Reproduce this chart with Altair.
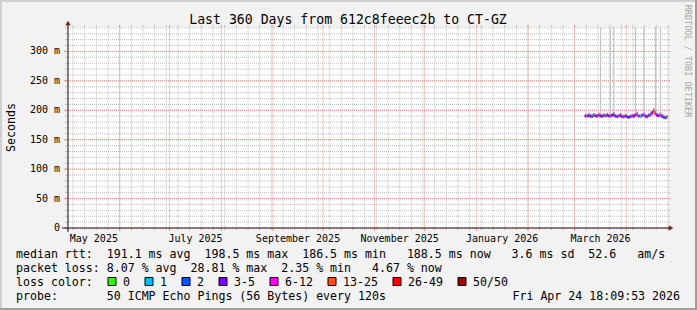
import altair as alt
import pandas as pd

# ---------------- data ----------------
title_text = "Last 360 Days from 612c8feeec2b to CT-GZ"
axis_start = "2025-05-01"
axis_days = 360
y_max = 341.5
y_ticks = [0, 50, 100, 150, 200, 250, 300]
y_tick_labels = ["0", "50 m", "100 m", "150 m", "200 m", "250 m", "300 m"]
month_labels = ["May 2025", "July 2025", "September 2025", "November 2025",
                "January 2026", "March 2026"]
label_month_starts = ["2025-05-01", "2025-07-01", "2025-09-01", "2025-11-01",
                      "2026-01-01", "2026-03-01"]

data_first_day = "2026-03-07"
median_rtt = [190.4, 189.6, 191.3, 190.0, 189.2, 191.6, 190.5, 189.8, 192.1, 190.7,
              189.4, 191.2, 190.1, 191.8, 190.6, 189.5, 191.1, 192.8, 190.3, 188.8,
              190.2, 191.7, 189.3, 188.4, 190.6, 189.1, 187.6, 188.8, 190.4, 189.2,
              191.5, 193.2, 190.1, 189.4, 190.9, 192.4, 190.3, 188.6, 190.8, 192.0,
              194.3, 198.5, 195.0, 191.6, 190.2, 192.5, 190.0, 188.9, 186.5, 188.5]
smoke_low = [188.0, 187.2, 188.6, 187.5, 186.9, 189.0, 188.1, 187.3, 189.4, 188.2,
             187.0, 188.7, 187.6, 189.1, 188.0, 187.1, 188.5, 190.0, 187.8, 186.4,
             187.7, 189.0, 186.9, 186.0, 188.1, 186.7, 185.3, 186.4, 187.9, 186.8,
             188.9, 190.4, 187.6, 187.0, 188.3, 189.8, 187.8, 186.2, 188.2, 189.4,
             191.5, 195.2, 192.1, 189.0, 187.8, 189.8, 187.5, 186.5, 184.3, 186.1]
smoke_high = [194.1, 193.0, 195.2, 193.6, 192.7, 195.4, 194.0, 193.3, 196.0, 194.3,
              192.9, 194.8, 193.7, 195.6, 194.2, 193.0, 194.7, 196.9, 193.9, 192.2,
              193.8, 195.5, 192.8, 191.9, 194.2, 192.6, 191.0, 192.3, 194.0, 192.7,
              195.3, 197.4, 193.7, 192.9, 194.6, 196.3, 193.9, 192.1, 194.5, 195.9,
              198.6, 203.0, 199.2, 195.4, 193.8, 196.4, 193.6, 192.4, 189.9, 191.8]
loss_class = ["3-5", "6-12", "3-5", "3-5", "2", "6-12", "3-5", "3-5", "6-12", "3-5",
              "3-5", "2", "6-12", "3-5", "3-5", "6-12", "3-5", "3-5", "2", "3-5",
              "6-12", "3-5", "3-5", "6-12", "3-5", "2", "3-5", "3-5", "6-12", "3-5",
              "3-5", "6-12", "3-5", "1", "3-5", "6-12", "3-5", "3-5", "2", "6-12",
              "3-5", "13-25", "6-12", "3-5", "3-5", "6-12", "3-5", "2", "3-5", "3-5"]
spike_dates = ["2026-03-16", "2026-03-22", "2026-03-24", "2026-04-06",
               "2026-04-11", "2026-04-18", "2026-04-21"]
spike_top = 1000.0

loss_labels = ["0", "1", "2", "3-5", "6-12", "13-25", "26-49", "50/50"]
loss_colors = ["#26ff00", "#00b8ff", "#0059ff", "#7e00ff", "#ff00ff",
               "#ff5500", "#ff0000", "#a10000"]

rtt_avg, rtt_max, rtt_min, rtt_now, rtt_sd, am_s = 191.1, 198.5, 186.5, 188.5, 3.6, 52.6
loss_avg, loss_max, loss_min, loss_now = 8.07, 28.81, 2.35, 4.67
probe_text = "50 ICMP Echo Pings (56 Bytes) every 120s"
stamp_text = "Fri Apr 24 18:09:53 2026"
watermark = "RRDTOOL / TOBI OETIKER"

# ---------------- layout ----------------
W, H = 600, 201
MONO = "DejaVu Sans Mono"
NB = "\u00a0"
start = pd.Timestamp(axis_start)


def day(ts):
    return (pd.Timestamp(ts) - start) / pd.Timedelta(days=1)


xs = alt.Scale(domain=[0, axis_days], nice=False, zero=False)
ys = alt.Scale(domain=[0, y_max], nice=False, zero=False, clamp=True)
one = pd.DataFrame({"k": [0]})

end = start + pd.Timedelta(days=axis_days)
week_df = pd.DataFrame({"d": [day(t) for t in pd.date_range(start, end, freq="W-SUN")]})
month_df = pd.DataFrame({"d": [day(t) for t in pd.date_range(start, end, freq="MS")]})
ymin_df = pd.DataFrame({"v": list(range(0, int(y_max) + 1, 10))})
ymaj_df = pd.DataFrame({"v": y_ticks,
                        "lab": [s.replace(" ", NB) + (NB * 2 if s == "0" else "")
                                for s in y_tick_labels]})

MINOR = "#bdbdbd"
MAJOR = "#e58f8f"

layers = []

# frame shading
frame = pd.DataFrame({
    "x": [-68, -68, -68, 627], "x2": [629, -66, 629, 629],
    "y": [-27, -27, 281, -27], "y2": [-25, 283, 283, 283],
    "c": ["#CFCFCF", "#CFCFCF", "#9E9E9E", "#9E9E9E"]})
layers.append(alt.Chart(frame).mark_rect().encode(
    x=alt.X("x:Q", scale=None), x2="x2", y=alt.Y("y:Q", scale=None), y2="y2",
    color=alt.Color("c:N", scale=None)))

# minor grid
layers.append(alt.Chart(week_df).mark_rule(color=MINOR, strokeDash=[1, 1], strokeWidth=1).encode(
    x=alt.X("d:Q", scale=xs, axis=None), y=alt.value(0.5), y2=alt.value(H)))
for a, b in [(-2, 0), (H, H + 2)]:
    layers.append(alt.Chart(week_df).mark_rule(color=MINOR).encode(
        x=alt.X("d:Q", scale=xs, axis=None), y=alt.value(a), y2=alt.value(b)))
layers.append(alt.Chart(ymin_df).mark_rule(color=MINOR, strokeDash=[1, 1]).encode(
    y=alt.Y("v:Q", scale=ys, axis=None), x=alt.value(0), x2=alt.value(W)))
for a, b in [(-3, 0), (W, W + 2)]:
    layers.append(alt.Chart(ymin_df).mark_rule(color=MINOR).encode(
        y=alt.Y("v:Q", scale=ys, axis=None), x=alt.value(a), x2=alt.value(b)))

# major grid
layers.append(alt.Chart(month_df).mark_rule(color=MAJOR, strokeDash=[1, 1], strokeWidth=1).encode(
    x=alt.X("d:Q", scale=xs, axis=None), y=alt.value(0.5), y2=alt.value(H)))
for a, b in [(-2, 0), (H, H + 3)]:
    layers.append(alt.Chart(month_df).mark_rule(color=MAJOR).encode(
        x=alt.X("d:Q", scale=xs, axis=None), y=alt.value(a), y2=alt.value(b)))
layers.append(alt.Chart(ymaj_df).mark_rule(color=MAJOR, strokeDash=[1, 1]).encode(
    y=alt.Y("v:Q", scale=ys, axis=None), x=alt.value(0), x2=alt.value(W)))
for a, b in [(-4, 0), (W, W + 2)]:
    layers.append(alt.Chart(ymaj_df).mark_rule(color=MAJOR).encode(
        y=alt.Y("v:Q", scale=ys, axis=None), x=alt.value(a), x2=alt.value(b)))
# y tick labels
layers.append(alt.Chart(ymaj_df).mark_text(font=MONO, fontSize=10, color="#000000",
                                            align="right", baseline="middle").encode(
    y=alt.Y("v:Q", scale=ys, axis=None), x=alt.value(-8), text="lab:N"))

# data
first = pd.Timestamp(data_first_day)
dates = [first + pd.Timedelta(days=i) for i in range(len(median_rtt))]
ddf = pd.DataFrame({
    "d": [day(t) for t in dates],
    "m": median_rtt, "lo": smoke_low, "hi": smoke_high, "loss": loss_class})
ddf["d2"] = ddf["d"] + 1
ddf["dc"] = ddf["d"] + 0.5

spk = ddf[[t.strftime("%Y-%m-%d") in spike_dates for t in dates]].copy()
spk["top"] = spike_top
layers.append(alt.Chart(spk).mark_rule(color="#c4c4c4", strokeWidth=1.2).encode(
    x=alt.X("dc:Q", scale=xs, axis=None),
    y=alt.Y("hi:Q", scale=ys, axis=None), y2="top"))
layers.append(alt.Chart(ddf).mark_rect(color="#6e6e6e", opacity=0.85).encode(
    x=alt.X("d:Q", scale=xs, axis=None), x2="d2",
    y=alt.Y("lo:Q", scale=ys, axis=None), y2="hi"))

seg = ddf.copy()
seg["dn"] = seg["d"].shift(-1)
seg["mn"] = seg["m"].shift(-1)
seg = seg.dropna()
layers.append(alt.Chart(seg).mark_rule(strokeWidth=2).encode(
    x=alt.X("d:Q", scale=xs, axis=None), x2="dn",
    y=alt.Y("m:Q", scale=ys, axis=None), y2="mn",
    color=alt.Color("loss:N", scale=alt.Scale(domain=loss_labels, range=loss_colors),
                    legend=None)))

# axes + arrows
AX = "#1f1f1f"
ARROW = "#801f1f"
layers.append(alt.Chart(one).mark_rule(color=AX).encode(
    x=alt.value(-6), x2=alt.value(W + 3), y=alt.value(H)))
layers.append(alt.Chart(one).mark_rule(color=AX).encode(
    x=alt.value(0), y=alt.value(-5), y2=alt.value(H + 4)))
layers.append(alt.Chart(one).mark_point(shape="triangle-right", filled=True, size=28,
                                         color=ARROW, opacity=1).encode(
    x=alt.value(W + 3), y=alt.value(H)))
layers.append(alt.Chart(one).mark_point(shape="triangle-up", filled=True, size=28,
                                         color=ARROW, opacity=1).encode(
    x=alt.value(0), y=alt.value(-4)))

# month labels (centred in the labelled month)
mdf = pd.DataFrame({"lab": month_labels})
mdf["d"] = [day(s) + (day(pd.Timestamp(s) + pd.offsets.MonthBegin(1)) - day(s)) / 2
            for s in label_month_starts]
layers.append(alt.Chart(mdf).mark_text(font=MONO, fontSize=10, color="#000000",
                                        baseline="alphabetic", align="center").encode(
    x=alt.X("d:Q", scale=xs, axis=None), y=alt.value(214.5), text="lab:N"))

# titles
layers.append(alt.Chart(one).mark_text(text=title_text, font=MONO, fontSize=13.2,
                                        color="#000000", align="center",
                                        baseline="alphabetic").encode(
    x=alt.value(280), y=alt.value(-3.2)))
layers.append(alt.Chart(one).mark_text(text="Seconds", font=MONO, fontSize=11.6,
                                        color="#000000", align="center", angle=270,
                                        baseline="alphabetic").encode(
    x=alt.value(-53.5), y=alt.value(100.5)))
layers.append(alt.Chart(one).mark_text(text=watermark, font=MONO, fontSize=8.5,
                                        color="#a6a6a6", align="center", angle=90,
                                        baseline="alphabetic").encode(
    x=alt.value(617), y=alt.value(34)))

# legend text
line1 = (f"median rtt:  {rtt_avg:.1f} ms avg  {rtt_max:.1f} ms max  {rtt_min:.1f} ms min"
         f"   {rtt_now:.1f} ms now   {rtt_sd:.1f} ms sd  {am_s:.1f}   am/s")
line2 = (f"packet loss: {loss_avg:.2f} % avg  {loss_max:.2f} % max  {loss_min:.2f} % min"
         f"   {loss_now:.2f} % now")
line3 = "loss color:"
line4 = f"probe:       {probe_text}"
LFS = 11.6
CW = 7.0
ROW0 = 231
leg = pd.DataFrame({"t": [s.replace(" ", NB) for s in [line1, line2, line3, line4]]})
leg["y"] = [ROW0 + 14 * i for i in range(len(leg))]
leg["x"] = -52
layers.append(alt.Chart(leg).mark_text(font=MONO, fontSize=LFS, color="#000000",
                                        align="left", baseline="alphabetic").encode(
    x=alt.X("x:Q", scale=None), y=alt.Y("y:Q", scale=None), text="t:N"))
layers.append(alt.Chart(one).mark_text(text=stamp_text, font=MONO, fontSize=LFS,
                                        color="#000000", align="right",
                                        baseline="alphabetic").encode(
    x=alt.value(612), y=alt.value(ROW0 + 42)))

# loss colour boxes
bx, rows = 40.0, []
for lab, col in zip(loss_labels, loss_colors):
    rows.append({"x": bx, "x2": bx + 8, "lx": bx + 15, "lab": lab, "c": col})
    bx = bx + 15 + CW * len(lab) + 15
box = pd.DataFrame(rows)
box["y"] = ROW0 + 28 - 8.5
box["y2"] = ROW0 + 28 - 0.5
layers.append(alt.Chart(box).mark_rect(stroke="#000000", strokeWidth=1).encode(
    x=alt.X("x:Q", scale=None), x2="x2", y=alt.Y("y:Q", scale=None), y2="y2",
    color=alt.Color("c:N", scale=None)))
box["ty"] = ROW0 + 28
layers.append(alt.Chart(box).mark_text(font=MONO, fontSize=LFS, color="#000000",
                                        align="left", baseline="alphabetic").encode(
    x=alt.X("lx:Q", scale=None), y=alt.Y("ty:Q", scale=None), text="lab:N"))

chart = alt.layer(*layers).properties(
    width=W, height=H,
    padding={"left": 68, "top": 27, "right": 29, "bottom": 82},
    autosize=alt.AutoSizeParams(type="none"),
).configure(background="#F2F2F2").configure_view(stroke=None, fill="#FFFFFF")

chart.save("out.html", embed_options={"renderer": "svg", "actions": False})
